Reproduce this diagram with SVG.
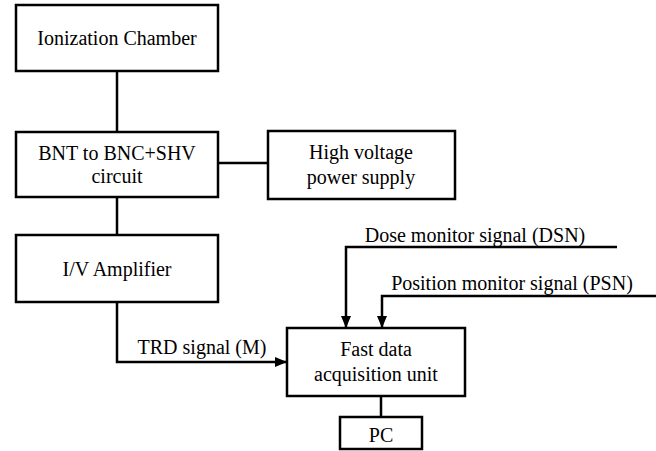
<svg xmlns="http://www.w3.org/2000/svg" width="656" height="451" viewBox="0 0 656 451">
<style>
rect{fill:#fff;stroke:#000;stroke-width:2.5}
text{font-family:'Liberation Serif','Tinos','Times New Roman','DejaVu Serif',serif;font-size:20px;fill:#000;text-anchor:middle}
.c{fill:none;stroke:#000;stroke-width:2.5}
</style>
<defs>
<marker id="ah" markerUnits="userSpaceOnUse" markerWidth="12" markerHeight="12" viewBox="0 0 12 12" refX="12" refY="6" orient="auto">
<path d="M0,1 L12,6 L0,11 Z" fill="#000"/>
</marker>
</defs>
<g id="connectors">
<line class="c" x1="117" y1="71" x2="117" y2="132"/>
<line class="c" x1="218" y1="163" x2="268" y2="163"/>
<line class="c" x1="117" y1="197" x2="117" y2="235"/>
<polyline class="c" points="117,302 117,362 287,362" marker-end="url(#ah)"/>
<polyline class="c" points="617,247 346,247 346,328" marker-end="url(#ah)"/>
<polyline class="c" points="656,296 382,296 382,328" marker-end="url(#ah)"/>
<line class="c" x1="381" y1="396" x2="381" y2="417"/>
<text x="202" y="354" font-family="Liberation Serif">TRD signal (M)</text>
<text x="475" y="242" font-family="Liberation Serif">Dose monitor signal (DSN)</text>
<text x="512" y="290" font-family="Liberation Serif">Position monitor signal (PSN)</text>
</g>
<g id="ionization"><rect x="16" y="5" width="202" height="66"/><text x="117" y="45">Ionization Chamber</text></g>
<g id="bnt"><rect x="16" y="132" width="202" height="65"/><text x="117" y="160">BNT to BNC+SHV</text><text x="117" y="183">circuit</text></g>
<g id="hv"><rect x="268" y="131" width="187" height="68"/><text x="361" y="159">High voltage</text><text x="361" y="184">power supply</text></g>
<g id="amp"><rect x="16" y="235" width="202" height="67"/><text x="117" y="276">I/V Amplifier</text></g>
<g id="fast"><rect x="287" y="328" width="178" height="68"/><text x="376" y="356">Fast data</text><text x="376" y="381">acquisition unit</text></g>
<g id="pc"><rect x="340" y="417" width="82" height="32"/><text x="381" y="442">PC</text></g>
</svg>
